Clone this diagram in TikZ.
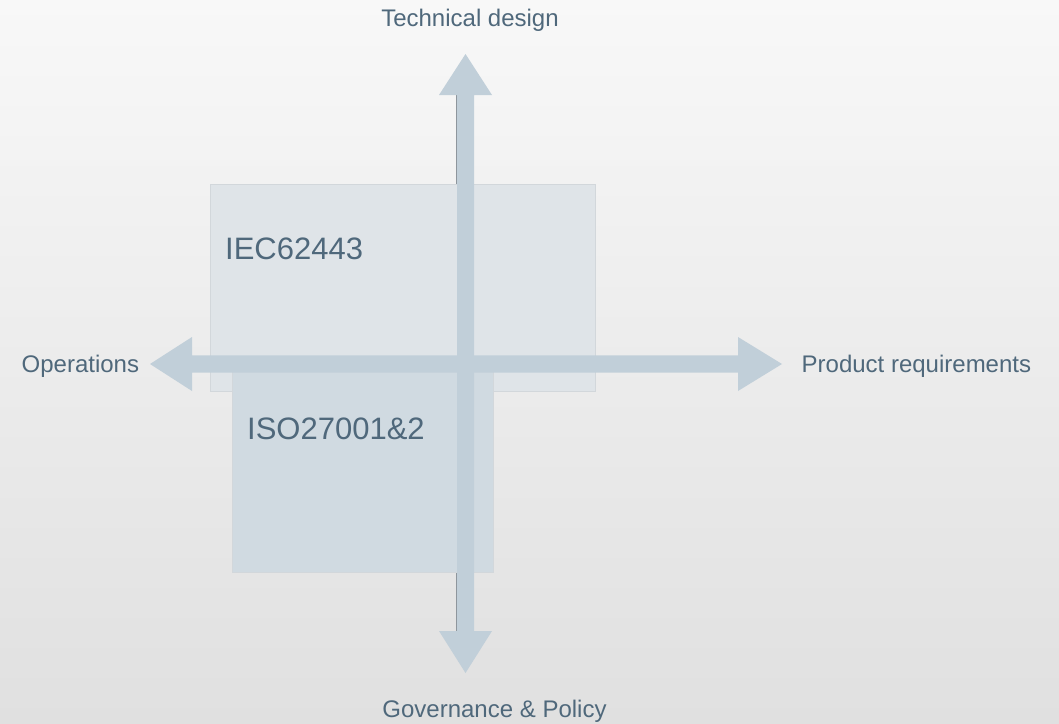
\documentclass[tikz,border=0pt]{standalone}
\usepackage{fontspec}
\setmainfont{Liberation Sans}
\definecolor{bgtop}{HTML}{F8F8F8}
\definecolor{bgbot}{HTML}{E0E0E0}
\definecolor{axisfill}{HTML}{C1CFD9}
\definecolor{iecfill}{HTML}{DFE4E8}
\definecolor{isofill}{HTML}{D0DAE1}
\definecolor{boxline}{HTML}{D2D7DB}
\definecolor{labeltext}{HTML}{4F687B}
\definecolor{shadowline}{HTML}{8E969D}
\tikzset{
  axislabel/.style={text=labeltext, inner sep=0pt, font=\fontsize{24}{28}\selectfont},
  stdlabel/.style={text=labeltext, inner sep=0pt, font=\fontsize{31}{36}\selectfont},
  axisbody/.style={fill=axisfill, draw=none},
}
\begin{document}
\begin{tikzpicture}[x=1pt, y=-1pt]
  % page background with a soft vertical gradient
  \shade[top color=bgtop, bottom color=bgbot] (0,0) rectangle (1059,723);
  \useasboundingbox (0,0) rectangle (1059,723);

  % thin shadow along the vertical axis, hidden behind the boxes
  \draw[shadowline, line width=0.9pt] (456.6,95) -- (456.6,631);

  % standard boxes
  \node[draw=boxline, fill=iecfill, line width=0.8pt, minimum width=385pt, minimum height=207pt, anchor=north west, inner sep=0pt] (iec) at (210,184) {};
  \node[draw=boxline, fill=isofill, line width=0.8pt, minimum width=260.5pt, minimum height=205pt, anchor=north west, inner sep=0pt] (iso) at (232,367) {};

  \node[stdlabel, anchor=base west] (iectext) at (225,259) {IEC62443};
  \node[stdlabel, anchor=base west] (isotext) at (247,439) {ISO27001\&2};

  % vertical double-headed axis
  \coordinate (vtop) at (465.5,54);
  \coordinate (vbot) at (465.5,673);
  \fill[axisbody] (vtop) -- (492,95) -- (474,95) -- (474,631) -- (492,631)
        -- (vbot) -- (439,631) -- (457,631) -- (457,95) -- (439,95) -- cycle;

  % horizontal double-headed axis
  \coordinate (hleft) at (150,364);
  \coordinate (hright) at (782,364);
  \fill[axisbody] (hleft) -- (192,337) -- (192,355.3) -- (738,355.3) -- (738,337)
        -- (hright) -- (738,391) -- (738,372.7) -- (192,372.7) -- (192,391) -- cycle;

  % axis labels
  \node[axislabel, anchor=base] (tech) at (470,26.5) {Technical design};
  \node[axislabel, anchor=base] (gov) at (494.5,717.5) {Governance \& Policy};
  \node[axislabel, anchor=base west] (ops) at (21.5,372) {Operations};
  \node[axislabel, anchor=base west] (prod) at (801.5,372) {Product requirements};
\end{tikzpicture}
\end{document}
